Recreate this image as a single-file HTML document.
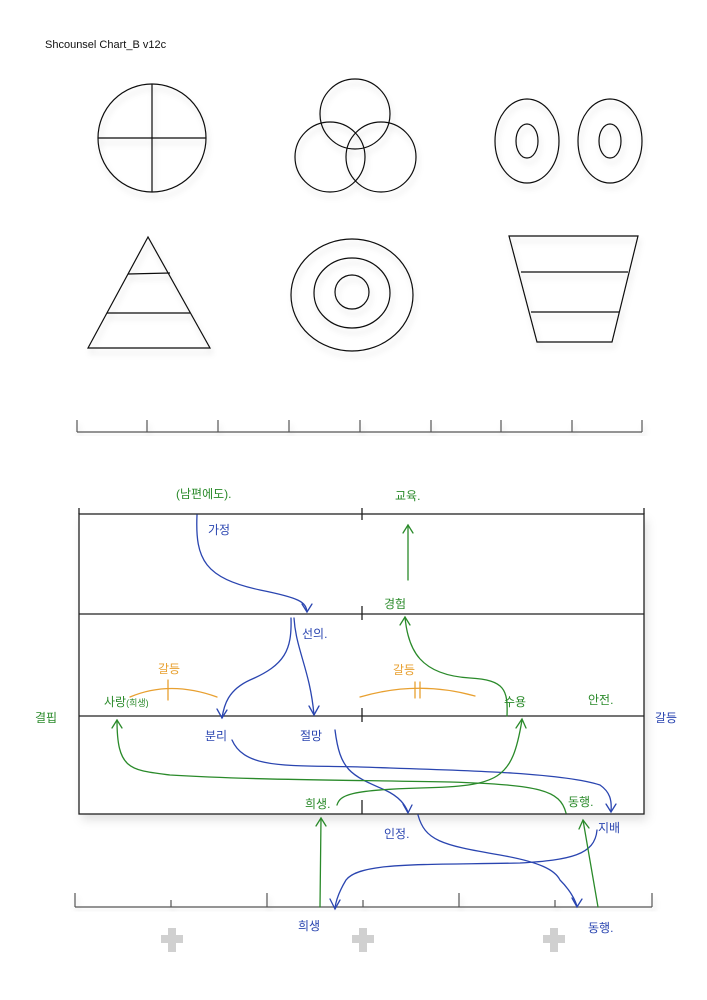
<!DOCTYPE html>
<html><head><meta charset="utf-8"><style>
body{margin:0;background:#fff}
svg{display:block}
text{font-family:"Liberation Sans","Noto Sans CJK KR",sans-serif}
</style></head><body>
<svg width="707" height="1000" viewBox="0 0 707 1000" xmlns="http://www.w3.org/2000/svg">
<defs>
<filter id="sh" x="-10%" y="-10%" width="120%" height="130%"><feDropShadow dx="3" dy="6" stdDeviation="5" flood-color="#000" flood-opacity="0.12"/></filter>
<filter id="sh2" x="-10%" y="-10%" width="130%" height="140%"><feDropShadow dx="2" dy="5" stdDeviation="3" flood-color="#000" flood-opacity="0.15"/></filter>
</defs>
<text x="45" y="48" font-size="11" fill="#111">Shcounsel Chart_B v12c</text>
<g fill="none" stroke="#111" stroke-width="1.2" filter="url(#sh2)">
<circle cx="152" cy="138" r="54"/><line x1="98" y1="138" x2="206" y2="138"/><line x1="152" y1="84" x2="152" y2="192"/>
<circle cx="355" cy="114" r="35"/><circle cx="330" cy="157" r="35"/><circle cx="381" cy="157" r="35"/>
<ellipse cx="527" cy="141" rx="32" ry="42"/><ellipse cx="527" cy="141" rx="11" ry="17"/>
<ellipse cx="610" cy="141" rx="32" ry="42"/><ellipse cx="610" cy="141" rx="11" ry="17"/>
<polygon points="148,237 88,348 210,348"/><line x1="128" y1="274" x2="170" y2="273"/><line x1="107" y1="313" x2="190" y2="313"/>
<ellipse cx="352" cy="295" rx="61" ry="56"/><ellipse cx="352" cy="293" rx="38" ry="35"/><ellipse cx="352" cy="292" rx="17" ry="17"/>
<polygon points="509,236 638,236 612,342 537,342"/><line x1="521" y1="272" x2="628" y2="272"/><line x1="531" y1="312" x2="619" y2="312"/>
</g>
<g stroke="#555" stroke-width="1.2" fill="none" filter="url(#sh2)">
<line x1="77" y1="432" x2="642" y2="432"/>
<path d="M77 420V432M147 420V432M218 420V432M289 420V432M360 420V432M431 420V432M501 420V432M572 420V432M642 420V432"/>
</g>
<rect x="79" y="514" width="565" height="300" fill="#fff" filter="url(#sh)"/>
<g stroke="#222" stroke-width="1.3" fill="none">
<rect x="79" y="514" width="565" height="300"/>
<line x1="79" y1="614" x2="644" y2="614"/><line x1="79" y1="716" x2="644" y2="716"/>
<path d="M79 508V514M644 508V514M362 508V520M362 606V620M362 708V722M362 800V814"/>
</g>
<g stroke="#555" stroke-width="1.2" fill="none" filter="url(#sh2)">
<line x1="75" y1="907" x2="652" y2="907"/>
<path d="M75 893V907M171 900V907M267 893V907M363 900V907M459 893V907M555 900V907M652 893V907"/>
</g>
<g fill="#d0d0d0">
<rect x="168" y="928" width="8" height="24"/><rect x="161" y="935" width="22" height="8"/>
<rect x="359" y="928" width="8" height="24"/><rect x="352" y="935" width="22" height="8"/>
<rect x="550" y="928" width="8" height="24"/><rect x="543" y="935" width="22" height="8"/>
</g>
<g fill="none" stroke-width="1.3" stroke-linecap="round">
<g stroke="#2a45b0">
<path d="M197 515 C195 560 205 578 260 590 C300 598 306 602 307 612"/><path d="M302 604 L307 612 L312 604"/>
<path d="M291 618 C292 650 285 665 250 680 C228 690 224 705 222 718"/><path d="M217 709 L222 718 L227 710"/>
<path d="M294 618 C296 650 310 670 314 715"/><path d="M309 706 L314 715 L319 706"/>
<path d="M232 740 C245 770 290 765 360 767 C450 770 560 772 600 785 C610 792 612 800 611 812"/><path d="M606 804 L611 812 L616 804"/>
<path d="M335 730 C340 770 350 775 385 790 C400 797 405 805 408 812"/><path d="M403 804 L408 813 L412 805"/>
<path d="M418 815 C425 840 440 845 500 855 C540 862 555 870 560 880 C570 890 575 900 577 906"/><path d="M572 898 L577 907 L582 899"/>
<path d="M597 830 C595 855 570 860 520 863 C420 865 360 862 346 880 C340 890 336 900 335 908"/><path d="M330 899 L335 909 L340 900"/>
</g>
<g stroke="#2a8a2a">
<path d="M408 580 L408 525"/><path d="M403 533 L408 525 L413 533"/>
<path d="M507 716 C508 690 505 680 470 678 C420 675 408 650 405 617"/><path d="M400 625 L405 617 L410 625"/>
<path d="M117 720 C117 770 130 770 170 775 C250 780 350 780 450 782 C540 785 560 790 566 813"/><path d="M112 728 L117 720 L122 728"/>
<path d="M337 805 C340 795 350 790 420 788 C500 786 512 780 522 720"/><path d="M516 728 L522 719 L526 728"/>
<path d="M320 907 L321 818"/><path d="M316 826 L321 818 L326 826"/>
<path d="M598 907 L583 820"/><path d="M579 829 L583 820 L589 828"/>
</g>
<g stroke="#e8a030">
<path d="M130 697 Q170 680 217 697"/><path d="M168 680V700"/>
<path d="M360 697 Q418 680 475 696"/><path d="M415 682V698M420 682V698"/>
</g>
</g>
<g font-size="12">
<text x="176" y="498" fill="#2a8a2a">(남편에도).</text>
<text x="395" y="500" fill="#2a8a2a">교육.</text>
<text x="208" y="534" fill="#2a45b0">가정</text>
<text x="384" y="608" fill="#2a8a2a">경험</text>
<text x="302" y="638" fill="#2a45b0">선의.</text>
<text x="158" y="673" fill="#e8a030">갈등</text>
<text x="393" y="674" fill="#e8a030">갈등</text>
<text x="104" y="706" fill="#2a8a2a">사랑<tspan font-size="9">(희생)</tspan></text>
<text x="504" y="706" fill="#2a8a2a">수용</text>
<text x="588" y="704" fill="#2a8a2a">안전.</text>
<text x="35" y="722" fill="#2a8a2a">결핍</text>
<text x="655" y="722" fill="#2a45b0">갈등</text>
<text x="205" y="740" fill="#2a45b0">분리</text>
<text x="300" y="740" fill="#2a45b0">절망</text>
<text x="305" y="808" fill="#2a8a2a">희생.</text>
<text x="568" y="806" fill="#2a8a2a">동행.</text>
<text x="598" y="832" fill="#2a45b0">지배</text>
<text x="384" y="838" fill="#2a45b0">인정.</text>
<text x="298" y="930" fill="#2a45b0">희생</text>
<text x="588" y="932" fill="#2a45b0">동행.</text>
</g>
</svg>
</body></html>
